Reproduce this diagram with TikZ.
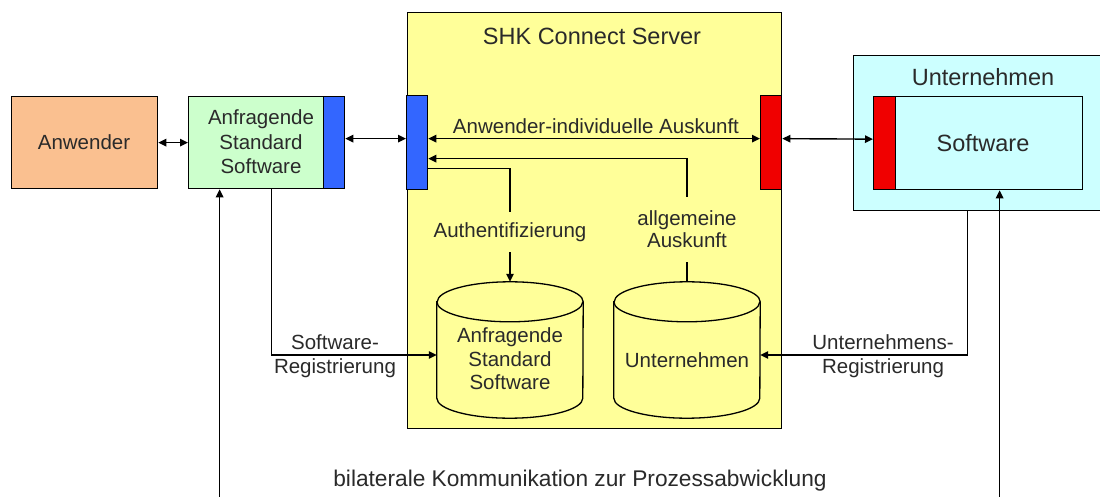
\documentclass[tikz,border=0pt]{standalone}
\usepackage{fontspec}
\setmainfont{Liberation Sans}
\usetikzlibrary{arrows.meta,calc}
\definecolor{peach}{HTML}{FAC090}
\definecolor{lgreen}{HTML}{CCFFCC}
\definecolor{sblue}{HTML}{3366FF}
\definecolor{sred}{HTML}{F00000}
\definecolor{syellow}{HTML}{FFFF99}
\definecolor{lcyan}{HTML}{CCFFFF}
\definecolor{textc}{HTML}{2A2A2A}
\begin{document}
\begin{tikzpicture}[x=1pt,y=-1pt,
  >={Triangle[length=8pt,width=7.5pt]},
  box/.style={draw=black,line width=1.3pt,inner sep=0pt,anchor=north west},
  txt/.style={text=textc,align=center,inner sep=0pt,font=\fontsize{20.5}{24}\selectfont},
  bigtxt/.style={text=textc,align=center,inner sep=0pt,font=\fontsize{23.5}{27}\selectfont},
  con/.style={draw=black,line width=1.4pt},
  cylbox/.style={inner sep=0pt,minimum width=146pt,minimum height=136pt},
  cylshape/.style={fill=syellow,draw=black,line width=1.3pt}
]
\useasboundingbox (0,0) rectangle (1100,497);
\fill[white] (0,0) rectangle (1100,497);

% left boxes
\node[box,fill=peach,minimum width=146pt,minimum height=92pt] (anw) at (11,96) {};
\node[txt] (anwt) at (84,142) {Anwender};
\node[box,fill=lgreen,minimum width=135pt,minimum height=92pt] (green) at (188,96) {};
\node[box,fill=sblue,minimum width=21pt,minimum height=92pt] (gstrip) at (323,96) {};
\node[txt,font=\fontsize{20.5}{24.5}\selectfont] (greent) at (261,142) {Anfragende\\Standard\\Software};

% server
\node[box,fill=syellow,minimum width=374pt,minimum height=416pt] (server) at (407,12) {};
\node[bigtxt] (servert) at (592,36) {SHK Connect Server};
\node[box,fill=sblue,minimum width=21pt,minimum height=94pt] (sblue) at (406,95) {};
\node[box,fill=sred,minimum width=21pt,minimum height=94pt] (sred) at (760,95) {};

% Unternehmen
\node[box,fill=lcyan,minimum width=250pt,minimum height=155pt] (uouter) at (853,55) {};
\node[bigtxt] (uoutert) at (983,77) {Unternehmen};
\node[box,fill=lcyan,minimum width=209pt,minimum height=93pt] (uinner) at (873,96) {};
\node[box,fill=sred,minimum width=22pt,minimum height=93pt] (ured) at (873,96) {};
\node[bigtxt] (uinnert) at (983,143) {Software};

% cylinders
\node[cylbox] (cyl1) at (510,350) {};
\node[cylbox] (cyl2) at (687,350) {};
\foreach \c in {cyl1,cyl2}{
  \path[cylshape] ($(\c.north west)+(0,20)$) -- ($(\c.south west)+(0,-20)$)
    arc[start angle=180,end angle=360,x radius=73pt,y radius=20pt]
    -- ($(\c.north east)+(0,20)$)
    arc[start angle=0,end angle=180,x radius=73pt,y radius=20pt] -- cycle;
  \draw[line width=1.3pt] ($(\c.north west)+(0,20)$)
    arc[start angle=180,end angle=360,x radius=73pt,y radius=20pt];
}
\node[txt,font=\fontsize{20.5}{23.5}\selectfont] (cyl1t) at (510,359) {Anfragende\\Standard\\Software};
\node[txt] (cyl2t) at (687,360) {Unternehmen};

% labels
\node[txt] (ausk) at (596,126) {Anwender-individuelle Auskunft};
\node[txt,minimum height=40pt] (auth) at (510,232) {Authentifizierung};
\node[txt,font=\fontsize{20.5}{22}\selectfont,minimum height=65pt] (allg) at (687,229.5) {allgemeine\\Auskunft};
\node[txt] (swreg) at (335,356) {Software-\\Registrierung};
\node[txt] (ureg) at (883,356) {Unternehmens-\\Registrierung};
\node[txt,font=\fontsize{22.7}{26}\selectfont] (bilat) at (580,481) {bilaterale Kommunikation zur Prozessabwicklung};

% connectors
\draw[con,<->] (anw.east) -- (green.west);
\draw[con,<->] ([yshift=4pt]gstrip.east) -- ([yshift=4pt]sblue.west);
\draw[con,<->] ([yshift=4pt]sblue.east) -- ([yshift=4pt]sred.west);
\draw[con,<->] ([yshift=4pt]sred.east) -- ([yshift=4pt]ured.west);
\draw[con,->] (allg.north) |- ([yshift=-16pt]sblue.east);
\draw[con] (cyl2.north) -- (allg.south);
\draw[con] ([yshift=-26pt]sblue.east) -| (auth.north);
\draw[con,->] (auth.south) -- (cyl1.north);
\draw[con,->] ([xshift=15.5pt]green.south) |- ([yshift=-5pt]cyl1.west);
\draw[con,->] ([xshift=-11pt]uouter.south) |- ([yshift=-5pt]cyl2.east);
\coordinate (bot) at (600,500);
\draw[con,<->] ([xshift=-36.5pt]green.south) |- (bot) -| ([xshift=21.5pt]uinner.south);
\end{tikzpicture}
\end{document}
